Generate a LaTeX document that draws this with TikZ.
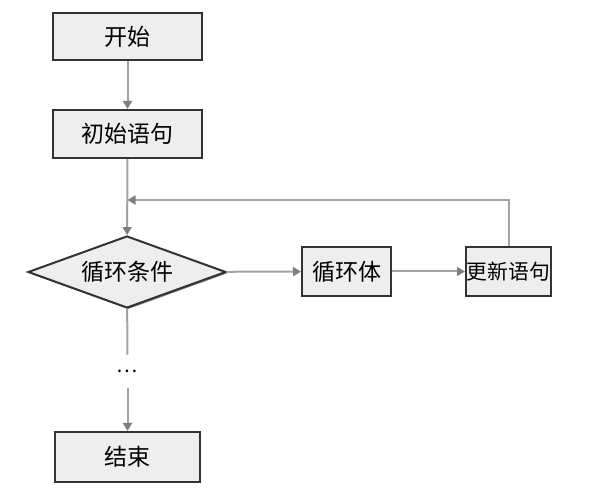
\documentclass[tikz,border=0pt]{standalone}
\usepackage{fontspec}
\newfontfamily\cjk{Noto Sans CJK SC}
\usetikzlibrary{arrows.meta,shapes.geometric,shadows}
\definecolor{boxfill}{HTML}{EEEEEE}
\definecolor{boxline}{HTML}{333333}
\definecolor{flowline}{HTML}{A3A3A3}
\definecolor{flowtip}{HTML}{7F7F7F}
\tikzset{
  stepbox/.style={draw=boxline, line width=1pt, fill=boxfill, inner sep=0pt,
    font=\cjk\fontsize{11.5}{14}\selectfont,
    drop shadow={shadow xshift=0.7pt, shadow yshift=-0.7pt, fill=boxline, opacity=0.6}},
  condbox/.style={stepbox, shape=diamond, aspect=2.75},
  flow/.style={draw=flowline, line width=1pt,
    -{Triangle[length=4pt, width=4.5pt, color=flowtip]}},
}

\begin{document}
\begin{tikzpicture}[x=0.5pt, y=-0.5pt]
			%%%%% START %%%%%
			\useasboundingbox (0, 0) rectangle (600, 491);
			
			\node[stepbox, minimum width=74.5pt, minimum height=23.5pt] (start) at (127.5, 36.5) {开始};
			\node[stepbox, minimum width=74.5pt, minimum height=24pt] (init) at (127.5, 134) {初始语句};
			\node[condbox, minimum width=99pt, minimum height=36pt] (cond) at (127, 272) {循环条件};
			\node[stepbox, minimum width=44.5pt, minimum height=24.5pt] (body) at (346.5, 271.5) {循环体};
			\node[stepbox, minimum width=42.5pt, minimum height=24.5pt, font=\cjk\fontsize{10.4}{14}\selectfont] (upd) at (508.5, 271.5) {更新语句};
			\node[font=\cjk\fontsize{10}{12}\selectfont, minimum height=16.5pt, inner sep=0pt] (dots) at (127.5, 371.5) {…};
			\node[stepbox, minimum width=72.5pt, minimum height=25pt] (stop) at (127.5, 457) {结束};
			
			\coordinate (join) at (127.5, 200);
			
			\draw[flow] (start) -- (init);
			\draw[flow] (init) -- (cond);
			\draw[flow] (cond) -- (body);
			\draw[flow] (body) -- (upd);
			\draw[flow] (upd.north) |- (join);
			\draw[draw=flowline, line width=1pt] (cond) -- (dots);
			\draw[flow] (dots) -- (stop);
			
			%%%%% END %%%%%
		\end{tikzpicture}
\end{document}
